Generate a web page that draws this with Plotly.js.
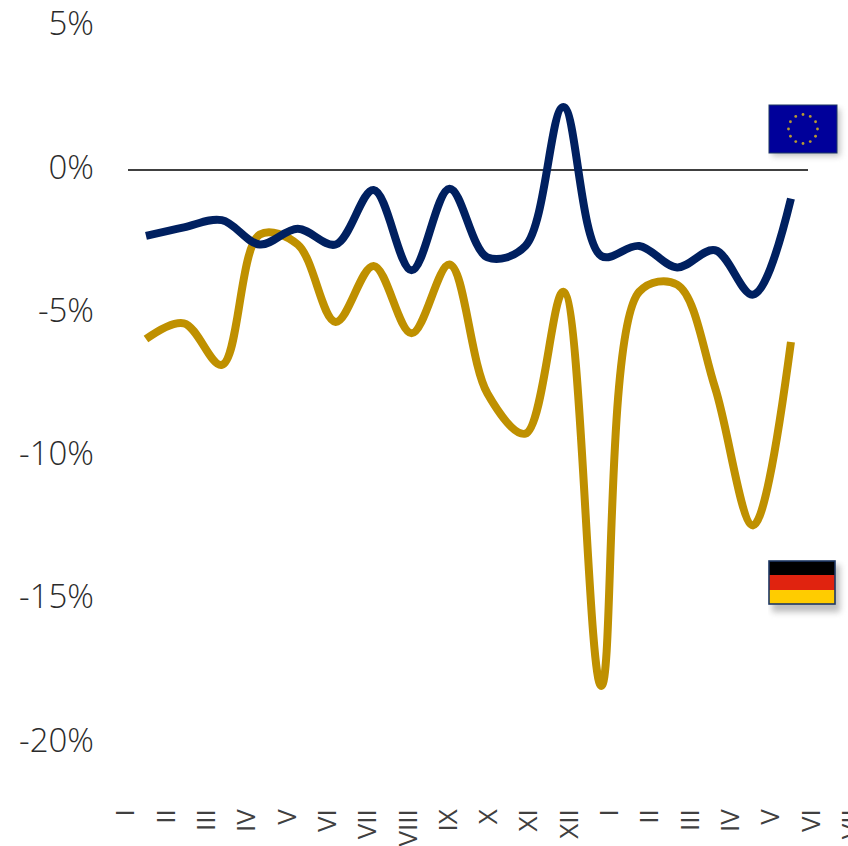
<!DOCTYPE html>
<html><head><meta charset="utf-8">
<script src="https://cdn.plot.ly/plotly-3.0.1.min.js"></script>
<style>html,body{margin:0;padding:0;background:#fff;overflow:hidden;width:848px;height:846px}</style>
</head><body><div id="chart"></div>
<script>
const pointIndex = [0,1,2,3,4,5,6,7,8,9,10,11,12,13,14,15,16,17];
const eu = [-2.3,-2.0,-1.75,-2.6,-2.05,-2.6,-0.7,-3.5,-0.65,-3.05,-2.65,2.2,-3.0,-2.65,-3.4,-2.8,-4.35,-1.0];
const de = [-5.9,-5.35,-6.8,-2.25,-2.6,-5.3,-3.35,-5.7,-3.3,-7.8,-9.2,-4.25,-18.0,-4.25,-4.0,-7.6,-12.4,-6.0];
const monthPos = [0,1,2,3,4,5,6,7,8,9,10,11,12,13,14,15,16,17,18];
const monthLabels = ['I','II','III','IV','V','VI','VII','VIII','IX','X','XI','XII','I','II','III','IV','V','VI','VII'];
const yTicks = [5,0,-5,-10,-15,-20];
const yLabels = ['5%','0%','-5%','-10%','-15%','-20%'];
const NAVY='#002060', GOLD='#BF9000', TXT='#2b2b2b';
const W=900,H=846,L=100,B=46, PH=H-B, PW=W-L;

function flag(inner){
  const svg=`<svg xmlns="http://www.w3.org/2000/svg" width="84" height="64" viewBox="0 0 84 64"><defs><filter id="s" x="-20%" y="-20%" width="140%" height="140%"><feGaussianBlur stdDeviation="3"/></filter></defs><rect x="4" y="5" width="68" height="47" fill="#888" opacity="0.55" filter="url(#s)"/>${inner}</svg>`;
  return 'data:image/svg+xml;utf8,'+encodeURIComponent(svg);
}
let stars='';
for(let i=0;i<12;i++){const a=i*Math.PI/6;stars+=`<circle cx="${35+14.5*Math.sin(a)}" cy="${25-14.5*Math.cos(a)}" r="1.4" fill="#B89A30"/>`;}
const euFlag=flag(`<rect x="1" y="1" width="68" height="48" fill="#00009A" stroke="#1F3864" stroke-width="1"/>${stars}`);
const deFlag=flag(`<rect x="1" y="1" width="66" height="14" fill="#000"/><rect x="1" y="15" width="66" height="15" fill="#E0230F"/><rect x="1" y="30" width="66" height="14" fill="#FFCC00"/><rect x="1" y="1" width="66" height="43" fill="none" stroke="#1F3864" stroke-width="1.6"/>`);
const px=v=>(v-L)/PW, py=v=>1-v/PH;

const line=(y,c)=>({x:pointIndex,y:y,mode:'lines',type:'scatter',xaxis:'x',yaxis:'y',hoverinfo:'skip',
  line:{color:c,width:8,shape:'spline',smoothing:1}});
const data=[
  line(de,GOLD),
  line(eu,NAVY),
  {x:monthPos,y:monthPos.map(()=>0),mode:'none',type:'scatter',xaxis:'x2',yaxis:'y',hoverinfo:'skip'}
];
const layout={
  width:W,height:H,margin:{l:L,r:0,t:0,b:B},paper_bgcolor:'#fff',plot_bgcolor:'#fff',showlegend:false,
  font:{family:'"Open Sans",sans-serif',color:TXT,size:33},
  xaxis:{range:[-1.212,19.874],showgrid:false,zeroline:false,showticklabels:false,ticks:'',showline:false},
  xaxis2:{overlaying:'x',side:'bottom',anchor:'y',range:[-0.645,19.206],tickmode:'array',tickvals:monthPos,ticktext:monthLabels,tickangle:-90,
    showgrid:false,zeroline:false,showline:false,ticks:'',tickfont:{size:26,color:'#404040',weight:400},ticklabelstandoff:3},
  yaxis:{range:[170/28.66-PH/28.66,170/28.66],tickmode:'array',tickvals:yTicks,ticktext:yLabels,showgrid:false,zeroline:false,showline:false,ticks:'',tickfont:{size:33,color:TXT,weight:300},ticklabelstandoff:5,ticklabelshift:-3},
  shapes:[{type:'line',xref:'paper',yref:'y',x0:px(128),x1:px(808),y0:0,y1:0,line:{color:'#000',width:1.5},layer:'below'}],
  images:[
    {source:euFlag,xref:'paper',yref:'paper',x:px(768),y:py(104),sizex:84/PW,sizey:64/PH,sizing:'stretch',xanchor:'left',yanchor:'top',layer:'above'},
    {source:deFlag,xref:'paper',yref:'paper',x:px(768),y:py(560),sizex:84/PW,sizey:64/PH,sizing:'stretch',xanchor:'left',yanchor:'top',layer:'above'}
  ]
};
Plotly.newPlot('chart',data,layout,{displayModeBar:false,staticPlot:true});
</script></body></html>
